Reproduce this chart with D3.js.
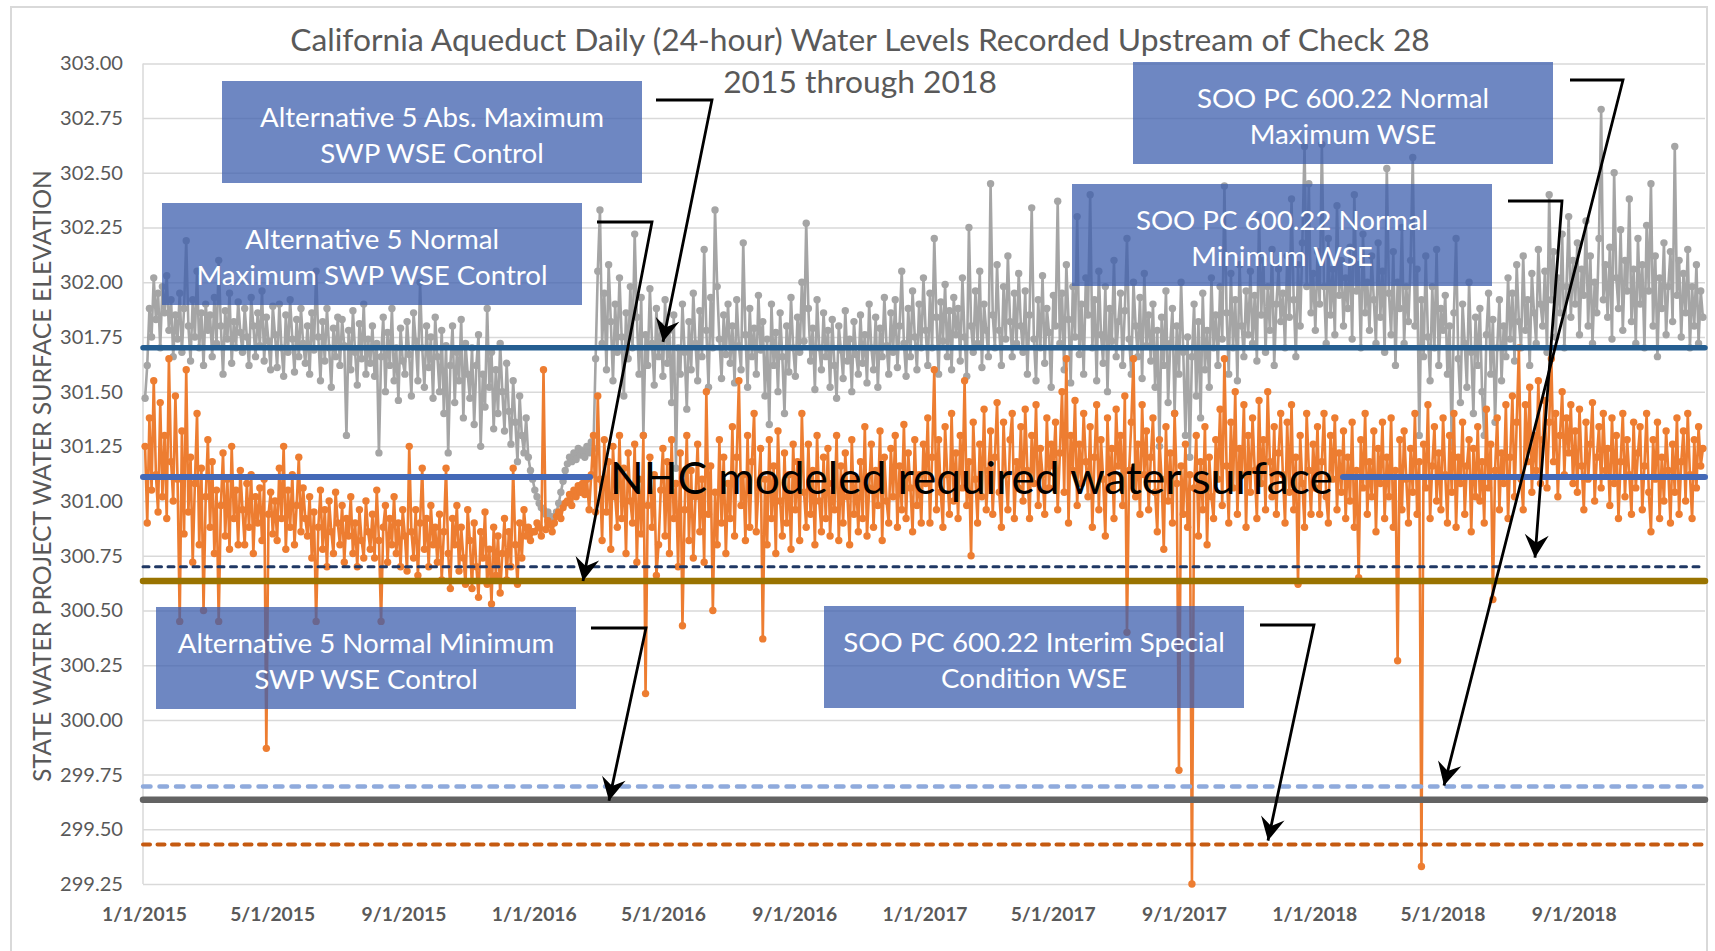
<!DOCTYPE html>
<html>
<head>
<meta charset="utf-8">
<script src="https://cdn.jsdelivr.net/npm/d3@7"></script>
<style>
  body { margin: 0; background: #fff; }
  svg { display: block; font-family: Lato, "Open Sans", sans-serif; }
</style>
</head>
<body>
<script>
// ----- DATA -----
var titleLines = ["California Aqueduct Daily (24-hour) Water Levels Recorded Upstream of Check 28", "2015 through 2018"];
var yAxisTitle = "STATE WATER PROJECT WATER SURFACE ELEVATION";
var yTicks = [299.25, 299.50, 299.75, 300.00, 300.25, 300.50, 300.75, 301.00, 301.25, 301.50, 301.75, 302.00, 302.25, 302.50, 302.75, 303.00];
var xTickLabels = ["1/1/2015", "5/1/2015", "9/1/2015", "1/1/2016", "5/1/2016", "9/1/2016", "1/1/2017", "5/1/2017", "9/1/2017", "1/1/2018", "5/1/2018", "9/1/2018"];
var years = [2015, 2016, 2017, 2018];

// gray series, ~every 2 days (15 readings per month)
var gray2015 = [
  301.47, 301.62, 301.88, 301.75, 302.02, 301.83, 301.95, 301.70, 301.98, 301.86, 302.03, 301.78, 301.92, 301.66, 301.85,
  301.74, 301.95, 301.68, 301.88, 302.19, 301.80, 301.64, 301.92, 301.75, 302.05, 301.70, 301.86, 301.62, 301.90, 301.78,
  301.85, 301.66, 301.93, 301.72, 302.10, 301.80, 301.58, 301.87, 301.74, 301.95, 301.63, 301.82, 301.70, 301.91, 301.77,
  301.68, 301.88, 301.75, 301.62, 301.93, 301.80, 301.66, 301.86, 301.71, 301.96, 301.64, 301.84, 301.73, 301.60, 301.89,
  301.76, 301.61, 301.90, 301.70, 301.57, 301.85, 301.68, 301.92, 301.74, 301.59, 301.83, 301.66, 301.88, 301.72, 301.63,
  301.80, 301.58, 301.86, 301.69, 302.05, 301.75, 301.55, 301.82, 301.64, 301.88, 301.70, 301.52, 301.79, 301.66, 301.84,
  301.62, 301.83, 301.71, 301.30, 301.78, 301.60, 301.87, 301.68, 301.53, 301.81, 301.65, 301.90, 301.58, 301.74, 301.63,
  301.80, 301.57, 301.72, 301.22, 301.66, 301.84, 301.50, 301.77, 301.62, 301.88, 301.55, 301.70, 301.46, 301.79, 301.64,
  301.58, 301.82, 301.67, 301.48, 301.86, 301.73, 301.55, 302.00, 301.70, 301.52, 301.80, 301.61, 301.75, 301.47, 301.84,
  301.66, 301.50, 301.78, 301.40, 301.71, 301.22, 301.62, 301.80, 301.45, 301.68, 301.55, 301.83, 301.38, 301.72, 301.58,
  301.47, 301.70, 301.35, 301.62, 301.76, 301.25, 301.58, 301.43, 301.88, 301.52, 301.68, 301.33, 301.60, 301.40, 301.72,
  301.50, 301.32, 301.63, 301.41, 301.26, 301.55, 301.36, 301.18, 301.48, 301.30, 301.22, 301.38, 301.20, 301.14, 301.10
];
var gray2016 = [
  301.05, 301.02, 300.99, 300.97, 300.96, 300.94, 300.95, 300.93, 300.92, 300.93, 300.95, 300.99, 301.04, 301.09, 301.14,
  301.17, 301.20, 301.18, 301.22, 301.19, 301.24, 301.21, 301.23, 301.20, 301.25, 301.22, 301.27, 301.24, 301.65, 302.05,
  302.33, 301.72, 301.95, 301.60, 302.08, 301.82, 301.55, 301.90, 301.68, 302.02, 301.75, 301.48, 301.86, 301.65, 301.98,
  301.70, 302.22, 301.84, 301.58, 301.93, 301.30, 301.76, 301.62, 301.97, 301.72, 301.53, 301.88, 301.66, 301.80, 301.57,
  301.92, 301.63, 301.78, 301.45, 301.85, 301.15, 301.70, 301.58, 301.90, 301.68, 301.42, 301.82, 301.60, 301.95, 301.72,
  301.55, 301.87, 301.66, 302.15, 301.78, 301.52, 301.93, 301.70, 302.33, 301.98, 301.74, 301.56, 301.85, 301.67, 301.90,
  301.63, 301.80, 301.54, 301.92, 301.71, 301.60, 302.18, 301.76, 301.52, 301.88, 301.66, 301.79, 301.58, 301.94, 301.69,
  301.82, 301.48, 301.74, 301.35, 301.90, 301.62, 301.77, 301.50, 301.86, 301.66, 301.40, 301.80, 301.59, 301.93, 301.70,
  301.57, 301.84, 301.68, 302.00, 301.73, 302.27, 301.88, 301.64, 301.79, 301.51, 301.92, 301.70, 301.60, 301.86, 301.66,
  301.78, 301.52, 301.83, 301.62, 301.47, 301.80, 301.69, 301.56, 301.87, 301.64, 301.74, 301.50, 301.82, 301.67, 301.58,
  301.85, 301.63, 301.76, 301.54, 301.90, 301.70, 301.60, 301.84, 301.52, 301.79, 301.66, 301.93, 301.71, 301.58, 301.86,
  301.68, 301.92, 301.61, 301.80, 302.05, 301.72, 301.57, 301.88, 301.66, 301.96, 301.75, 301.60, 301.90, 301.70, 302.02
];
var gray2017 = [
  301.78, 301.62, 301.95, 301.70, 302.20, 301.84, 301.58, 301.91, 301.73, 301.99, 301.66, 301.87, 301.60, 301.93, 301.76,
  301.88, 301.64, 302.02, 301.75, 301.57, 302.25, 301.80, 301.68, 301.96, 301.72, 302.05, 301.61, 301.90, 301.78, 301.66,
  302.45, 301.85, 301.70, 302.08, 301.78, 301.62, 301.98, 301.74, 302.12, 301.82, 301.66, 301.95, 301.72, 302.04, 301.80,
  301.68, 301.96, 301.58, 301.85, 302.34, 301.74, 301.55, 301.92, 301.70, 302.03, 301.63, 301.88, 301.77, 301.52, 301.94,
  301.80, 302.37, 301.72, 301.95, 301.60, 302.08, 301.83, 301.54, 301.98, 301.75, 302.30, 301.67, 301.90, 301.58, 302.02,
  301.85, 302.40, 301.70, 301.92, 301.55, 302.05, 301.76, 301.63, 301.98, 301.50, 301.88, 301.73, 302.10, 301.66, 301.82,
  301.95, 301.62, 301.87, 302.20, 301.74, 301.58, 302.00, 301.80, 301.66, 301.93, 301.56, 302.04, 301.71, 301.85, 301.64,
  301.90, 301.52, 301.78, 301.25, 301.84, 301.62, 301.96, 301.45, 301.72, 301.88, 301.40, 301.80, 301.58, 302.00, 301.68,
  301.30, 301.75, 301.20, 301.66, 301.90, 301.48, 301.82, 301.38, 301.95, 301.60, 301.78, 301.52, 302.02, 301.70, 301.85,
  301.62, 301.98, 301.74, 302.44, 301.86, 301.58, 302.04, 301.70, 301.92, 301.55, 302.08, 301.80, 301.66, 301.96, 301.76,
  302.05, 301.72, 301.94, 301.64, 302.30, 301.85, 302.10, 301.68, 301.98, 301.78, 302.15, 301.62, 301.90, 302.06, 301.82,
  301.95, 301.70, 302.12, 301.84, 302.38, 301.92, 301.66, 302.08, 301.80, 302.18, 302.62, 301.98, 302.45, 301.86, 302.04
];
var gray2018 = [
  301.78, 302.14, 301.90, 302.63, 301.98, 301.72, 302.20, 301.85, 302.06, 301.76, 302.35, 301.94, 302.10, 301.80, 302.02,
  301.88, 302.16, 301.74, 302.40, 301.96, 302.08, 301.70, 302.22, 301.86, 302.00, 301.78, 302.12, 301.92, 301.72, 302.18,
  301.84, 302.05, 301.68, 302.52, 301.95, 301.76, 302.14, 301.62, 302.00, 301.88, 302.25, 301.72, 301.98, 301.82, 302.10,
  302.57, 301.80, 302.06, 301.30, 301.92, 301.66, 302.12, 301.75, 301.55, 301.98, 301.70, 302.15, 301.62, 301.88, 301.78,
  301.94, 301.58, 301.80, 301.25, 301.86, 302.20, 301.65, 301.45, 301.90, 301.72, 301.52, 302.00, 301.68, 301.40, 301.84,
  301.62, 301.88, 301.50, 301.30, 301.76, 301.95, 301.58, 301.83, 301.36, 301.70, 301.92, 301.55, 301.80, 301.66, 302.02,
  301.74, 301.95, 301.64, 302.08, 301.82, 301.70, 302.12, 301.78, 301.92, 301.62, 302.04, 301.86, 301.72, 302.15, 301.90,
  301.80, 302.05, 301.68, 302.40, 301.92, 302.14, 301.75, 302.02, 301.86, 302.22, 301.70, 301.98, 302.30, 301.84, 302.10,
  301.90, 302.18, 301.76, 302.06, 301.94, 302.28, 301.80, 302.12, 301.72, 302.00, 301.86, 302.20, 302.79, 301.92, 302.08,
  301.84, 302.16, 301.74, 302.50, 302.02, 301.88, 302.24, 301.78, 302.10, 301.96, 302.38, 301.82, 302.06, 301.72, 302.20,
  301.90, 302.08, 301.70, 302.26, 301.96, 302.45, 301.80, 302.12, 301.66, 302.02, 301.88, 302.18, 301.76, 301.98, 302.14,
  301.82, 302.62, 301.94, 302.10, 301.75, 302.04, 301.86, 302.15, 301.70, 301.98, 301.80, 302.08, 301.72, 301.96, 301.84
];

// orange series, same sampling
var orange2015 = [
  301.25, 300.90, 301.38, 301.05, 301.55, 301.12, 300.95, 301.45, 301.02, 301.30, 300.92, 301.65, 301.18, 301.00, 301.48,
  301.10, 300.45, 301.32, 300.85, 301.60, 300.95, 301.20, 300.72, 301.08, 301.40, 300.80, 301.15, 300.50, 301.02, 301.28,
  300.88, 301.18, 300.76, 301.05, 300.45, 300.98, 301.22, 300.84, 301.10, 300.78, 301.25, 300.92, 301.05, 300.80, 301.14,
  300.96, 300.80, 301.08, 300.88, 301.12, 300.76, 301.02, 300.90, 301.06, 300.82, 301.10, 299.87, 300.94, 301.04, 300.85,
  301.00, 300.82, 301.15, 300.92, 301.25, 300.78, 301.05, 300.88, 301.12, 300.80, 300.98, 301.20, 300.86, 301.06, 300.92,
  300.84, 301.02, 300.74, 300.95, 300.45, 300.88, 301.05, 300.78, 300.96, 300.70, 301.00, 300.86, 300.76, 301.04, 300.90,
  300.80, 300.98, 300.72, 300.92, 300.84, 301.02, 300.76, 300.90, 300.70, 300.96, 300.82, 300.74, 301.00, 300.86, 300.78,
  300.94, 300.74, 301.05, 300.82, 300.45, 300.88, 300.98, 300.72, 300.92, 300.80, 301.02, 300.76, 300.90, 300.70, 300.96,
  300.84, 300.68, 301.25, 300.86, 300.74, 300.96, 300.66, 300.90, 301.15, 300.78, 300.92, 300.70, 300.98, 300.80, 300.88,
  300.72, 300.94, 300.64, 300.86, 301.15, 300.76, 300.60, 300.92, 300.80, 300.98, 300.68, 300.88, 300.74, 300.62, 300.96,
  300.82, 300.60, 300.90, 300.70, 300.56, 300.86, 300.74, 300.95, 300.62, 300.78, 300.53, 300.88, 300.66, 300.84, 300.58,
  300.76, 300.92, 300.64, 300.86, 300.70, 301.15, 300.80, 300.62, 300.90, 300.74, 300.96, 300.84, 300.88, 300.82, 300.86
];
var orange2016 = [
  300.86, 300.90, 300.88, 300.84, 301.60, 300.87, 300.91, 300.89, 300.86, 300.90, 300.93, 300.95, 300.92, 300.97, 300.99,
  301.00, 301.03, 300.98, 301.05, 301.02, 301.07, 301.04, 301.08, 301.03, 301.10, 300.96, 301.12, 301.30, 300.95, 301.48,
  301.10, 300.82, 301.28, 300.95, 301.18, 300.78, 301.25, 301.02, 300.88, 301.30, 300.92, 301.15, 300.76, 301.22, 301.00,
  300.90, 301.26, 300.72, 301.10, 300.85, 301.30, 300.12, 300.98, 301.20, 300.88, 301.12, 300.66, 300.80, 301.05, 301.24,
  300.84, 301.18, 300.76, 301.28, 300.92, 301.08, 300.70, 301.22, 300.43, 300.96, 301.30, 300.82, 301.14, 300.74, 301.02,
  301.26, 300.86, 301.10, 300.72, 301.50, 300.94, 301.16, 300.50, 301.04, 300.80, 301.28, 300.90, 301.20, 300.76, 301.08,
  300.92, 301.34, 300.84, 301.20, 301.55, 300.98, 301.12, 300.82, 301.30, 300.88, 301.18, 301.40, 300.86, 301.06, 301.24,
  300.37, 301.10, 300.80, 301.28, 300.92, 301.16, 300.76, 301.32, 301.00, 300.84, 301.22, 300.90, 301.12, 300.78, 301.26,
  300.96, 301.18, 300.82, 301.40, 301.04, 300.88, 301.26, 300.94, 301.14, 300.80, 301.30, 301.00, 300.86, 301.20, 300.92,
  301.24, 300.84, 301.08, 300.96, 301.30, 300.82, 301.16, 300.90, 301.22, 301.02, 300.80, 301.28, 300.94, 301.10, 300.86,
  301.18, 300.92, 301.34, 300.84, 301.06, 301.26, 300.88, 301.14, 300.98, 301.32, 300.82, 301.20, 301.00, 300.90, 301.24,
  301.02, 301.30, 300.88, 301.16, 300.96, 301.35, 300.92, 301.22, 301.06, 300.86, 301.28, 300.98, 301.12, 300.90, 301.26
];
var orange2017 = [
  301.08, 301.38, 300.90, 301.20, 301.60, 300.96, 301.28, 301.04, 300.88, 301.34, 301.12, 300.94, 301.40, 301.00, 301.22,
  300.92, 301.30, 301.06, 301.55, 300.98, 301.18, 300.75, 301.36, 301.10, 300.90, 301.26, 301.02, 301.42, 300.96, 301.14,
  301.32, 300.94, 301.20, 301.45, 301.04, 300.88, 301.36, 301.12, 300.96, 301.28, 301.40, 300.92, 301.18, 301.06, 301.34,
  301.00, 301.42, 301.14, 300.92, 301.30, 301.08, 301.44, 300.98, 301.24, 301.12, 300.94, 301.38, 301.06, 301.26, 301.16,
  301.36, 300.96, 301.22, 301.50, 301.04, 301.65, 300.90, 301.30, 301.14, 301.46, 300.98, 301.26, 301.08, 301.40, 301.18,
  301.02, 301.34, 300.88, 301.20, 301.44, 300.96, 301.28, 301.10, 300.84, 301.38, 301.06, 301.24, 300.92, 301.42, 301.16,
  301.30, 300.98, 301.48, 300.40, 301.14, 301.36, 301.65, 301.02, 301.26, 300.94, 301.44, 301.12, 301.32, 300.96, 301.20,
  301.38, 301.04, 300.86, 301.28, 301.10, 300.78, 301.34, 301.00, 301.22, 300.90, 301.40, 301.08, 299.77, 301.16, 300.94,
  301.26, 300.88, 301.12, 299.25, 301.06, 301.30, 300.84, 301.18, 300.96, 301.34, 300.80, 301.20, 301.02, 300.92, 301.28,
  301.10, 301.42, 300.98, 301.65, 301.16, 300.90, 301.36, 301.06, 301.50, 300.94, 301.24, 301.12, 301.44, 300.88, 301.30,
  301.04, 301.38, 301.14, 300.92, 301.46, 301.08, 301.28, 300.96, 301.50, 301.18, 301.02, 301.34, 300.94, 301.22, 301.40,
  301.12, 300.90, 301.36, 301.04, 301.44, 300.96, 301.20, 300.62, 301.30, 301.08, 300.88, 301.40, 301.14, 300.94, 301.26
];
var orange2018 = [
  301.06, 301.34, 300.94, 301.18, 301.40, 301.02, 300.90, 301.30, 301.10, 301.38, 300.96, 301.22, 301.04, 301.32, 300.92,
  301.20, 301.00, 301.36, 300.88, 301.14, 300.65, 301.28, 301.06, 301.40, 300.94, 301.18, 301.02, 301.32, 300.86, 301.24,
  301.08, 301.36, 300.92, 301.20, 301.02, 301.38, 300.88, 301.14, 300.27, 301.28, 300.96, 301.32, 301.10, 300.90, 301.24,
  301.04, 301.40, 300.94, 301.18, 299.33, 301.26, 301.06, 301.44, 300.92, 301.16, 301.34, 301.00, 301.22, 300.96, 301.38,
  301.12, 300.90, 301.30, 301.04, 301.40, 300.88, 301.20, 301.08, 301.36, 300.94, 301.16, 301.28, 300.86, 301.24, 301.02,
  301.34, 301.00, 301.18, 300.90, 301.42, 301.06, 301.26, 300.55, 301.14, 301.38, 300.96, 301.22, 301.08, 301.44, 300.92,
  301.20, 301.48, 301.02, 301.36, 301.70, 301.10, 300.96, 301.44, 301.18, 301.52, 301.04, 301.30, 301.14, 301.55, 301.08,
  301.28, 301.46, 301.06, 301.36, 301.65, 301.18, 301.40, 301.02, 301.30, 301.50, 301.12, 301.38, 301.22, 301.44, 301.08,
  301.32, 301.04, 301.42, 301.16, 300.96, 301.36, 301.10, 301.26, 301.45, 301.00, 301.20, 301.34, 301.06, 301.40, 301.14,
  301.24, 300.98, 301.38, 301.08, 301.30, 300.92, 301.18, 301.40, 301.02, 301.28, 301.12, 300.94, 301.36, 301.06, 301.22,
  301.34, 300.96, 301.16, 301.40, 301.04, 300.86, 301.28, 301.10, 301.36, 300.92, 301.20, 301.00, 301.32, 301.14, 300.90,
  301.26, 301.04, 301.38, 300.94, 301.18, 301.32, 301.00, 301.40, 301.12, 300.92, 301.28, 301.06, 301.34, 301.16, 301.24
];

// control / reference elevations
var refNames = ["absMax", "nhc", "sooMin", "alt5Max", "sooMax", "alt5Min", "sooInterim"];
var refValues = [301.70, 301.11, 300.70, 300.635, 299.695, 299.635, 299.43];
var nhcLabel = "NHC modeled required water surface";

var boxLabels = [
  ["Alternative 5 Abs. Maximum", "SWP WSE Control"],
  ["Alternative 5 Normal", "Maximum SWP WSE Control"],
  ["Alternative 5 Normal Minimum", "SWP WSE Control"],
  ["SOO PC 600.22 Interim Special", "Condition WSE"],
  ["SOO PC 600.22 Normal", "Maximum WSE"],
  ["SOO PC 600.22 Normal", "Minimum WSE"]
];
var boxTargets = ["absMax", "alt5Max", "alt5Min", "sooInterim", "sooMax", "sooMin"];

// ----- LAYOUT -----
var W = 1715, H = 951;
var plotL = 143, plotR = 1705, plotT = 63.4, plotB = 884;
var textGray = "#595959";

var refStyle = {
  absMax:     {color: "#255E91", width: 5.5, dash: null},
  nhc:        {color: "#4469B7", width: 6,   dash: null},
  sooMin:     {color: "#203864", width: 3,   dash: "6,6.5"},
  alt5Max:    {color: "#997300", width: 6.5, dash: null},
  sooMax:     {color: "#8FAADC", width: 4.5, dash: "7.5,9"},
  alt5Min:    {color: "#636363", width: 6.5, dash: null},
  sooInterim: {color: "#C55A11", width: 4,   dash: "7,7.5"}
};

var boxW = 420, boxH = 102;
var boxPos = [[222, 81], [162, 203], [156, 607], [824, 606], [1133, 62], [1072, 184]];
// arrow: start x, start y, corner x, tip x, gap above target line
var arrowPos = [
  [656, 100, 712, 663, 6],
  [597, 222, 652, 583, 0],
  [591, 628, 646, 609, -1],
  [1260, 625, 1314, 1268, 4],
  [1570, 80, 1623, 1444, 1],
  [1508, 201, 1562, 1535, 9]
];

var svg = d3.select("body").append("svg")
  .attr("width", W)
  .attr("height", H);

svg.append("rect").attr("width", W).attr("height", H).attr("fill", "#fff");

// font size that gives a wanted text width
function fitSize(str, weight, target) {
  var t = svg.append("text").attr("font-size", 100).attr("font-weight", weight).text(str);
  var w = t.node().getComputedTextLength();
  t.remove();
  return 100 * target / w;
}

var x = d3.scaleTime()
  .domain([new Date(2015, 0, 1), new Date(2019, 0, 1)])
  .range([144, 1704]);
var y = d3.scaleLinear()
  .domain([299.25, 303])
  .range([plotB, plotT]);

function buildSeries(arrays) {
  var pts = [];
  arrays.forEach(function(vals, k) {
    var t0 = new Date(years[k], 0, 1).getTime();
    var t1 = new Date(years[k] + 1, 0, 1).getTime();
    vals.forEach(function(v, i) {
      pts.push({date: new Date(t0 + (t1 - t0) * (i + 0.5) / vals.length), value: v});
    });
  });
  return pts;
}
var graySeries = buildSeries([gray2015, gray2016, gray2017, gray2018]);
var orangeSeries = buildSeries([orange2015, orange2016, orange2017, orange2018]);

// outer chart border
svg.append("rect")
  .attr("x", 11).attr("y", 7)
  .attr("width", 1696).attr("height", 960)
  .attr("fill", "none")
  .attr("stroke", "#d9d9d9")
  .attr("stroke-width", 2);

// Y AXIS + GRID
var yLabelSize = fitSize("303.00", "normal", 63);
var yAxis = svg.append("g")
  .attr("transform", "translate(" + plotL + ",0)")
  .call(d3.axisLeft(y).tickValues(yTicks).tickFormat(d3.format(".2f"))
    .tickSize(-(plotR - plotL)).tickPadding(20));
yAxis.select(".domain").remove();
yAxis.selectAll(".tick line").attr("stroke", "#d9d9d9").attr("stroke-width", 1.5);
yAxis.selectAll(".tick text")
  .attr("fill", textGray)
  .attr("font-size", yLabelSize)
  .attr("font-family", "Lato, sans-serif");

svg.append("line")
  .attr("x1", plotL).attr("x2", plotL)
  .attr("y1", plotT).attr("y2", plotB)
  .attr("stroke", "#d9d9d9").attr("stroke-width", 1.5);

// X AXIS
var parseTick = d3.timeParse("%m/%d/%Y");
var xLabelSize = fitSize("1/1/2015", "bold", 85);
var xAxis = svg.append("g")
  .attr("transform", "translate(0," + plotB + ")")
  .call(d3.axisBottom(x)
    .tickValues(xTickLabels.map(parseTick))
    .tickFormat(function(d, i) { return xTickLabels[i]; })
    .tickSize(0));
xAxis.select(".domain").remove();
xAxis.selectAll(".tick text")
  .attr("y", 30).attr("dy", "0.35em")
  .attr("fill", textGray)
  .attr("font-weight", "bold")
  .attr("font-size", xLabelSize)
  .attr("font-family", "Lato, sans-serif");

// AXIS TITLE
svg.append("text")
  .attr("transform", "translate(41,476) rotate(-90)")
  .attr("text-anchor", "middle")
  .attr("dominant-baseline", "central")
  .attr("fill", textGray)
  .attr("font-size", fitSize(yAxisTitle, "normal", 612))
  .text(yAxisTitle);

// SERIES
var line = d3.line()
  .x(function(d) { return x(d.date); })
  .y(function(d) { return y(d.value); });

function drawSeries(data, color) {
  var g = svg.append("g");
  g.append("path")
    .datum(data)
    .attr("fill", "none")
    .attr("stroke", color)
    .attr("stroke-width", 2.6)
    .attr("stroke-linejoin", "round")
    .attr("d", line);
  g.selectAll("circle")
    .data(data)
    .enter()
    .append("circle")
    .attr("cx", function(d) { return x(d.date); })
    .attr("cy", function(d) { return y(d.value); })
    .attr("r", 3.7)
    .attr("fill", color);
}
drawSeries(graySeries, "#A5A5A5");
drawSeries(orangeSeries, "#ED7D31");

// REFERENCE LINES
var refY = {};
refNames.forEach(function(n, i) { refY[n] = y(refValues[i]); });

var nhcSize = fitSize(nhcLabel, "normal", 723);
var nhcLeft = 610, nhcRight = 610 + 723;

refNames.forEach(function(n, i) {
  var st = refStyle[n];
  var segs = n === "nhc" ? [[plotL, nhcLeft - 20], [nhcRight + 10, plotR]] : [[plotL, plotR]];
  segs.forEach(function(s) {
    svg.append("line")
      .attr("x1", s[0]).attr("x2", s[1])
      .attr("y1", refY[n]).attr("y2", refY[n])
      .attr("stroke", st.color)
      .attr("stroke-width", st.width)
      .attr("stroke-linecap", "round")
      .attr("stroke-dasharray", st.dash);
  });
});

svg.append("text")
  .attr("x", nhcLeft)
  .attr("y", refY.nhc)
  .attr("dominant-baseline", "central")
  .attr("font-size", nhcSize)
  .attr("fill", "#000")
  .text(nhcLabel);

// ANNOTATION BOXES
var boxSize = fitSize(boxLabels[0][0], "normal", 344);
boxLabels.forEach(function(lines, i) {
  var bx = boxPos[i][0], by = boxPos[i][1];
  svg.append("rect")
    .attr("x", bx).attr("y", by)
    .attr("width", boxW).attr("height", boxH)
    .attr("fill", "#3e5fae")
    .attr("fill-opacity", 0.75);
  lines.forEach(function(t, j) {
    svg.append("text")
      .attr("x", bx + boxW / 2)
      .attr("y", by + 35 + j * 36)
      .attr("text-anchor", "middle")
      .attr("dominant-baseline", "central")
      .attr("font-size", boxSize)
      .attr("fill", "#fff")
      .text(t);
  });
});

// ARROWS
svg.append("defs").append("marker")
  .attr("id", "arrowHead")
  .attr("viewBox", "-24 -13 26 26")
  .attr("refX", 0).attr("refY", 0)
  .attr("markerWidth", 26).attr("markerHeight", 26)
  .attr("markerUnits", "userSpaceOnUse")
  .attr("orient", "auto")
  .append("path")
  .attr("d", "M0,0 L-23,-12 L-15,0 L-23,12 Z")
  .attr("fill", "#000");

arrowPos.forEach(function(a, i) {
  var tipY = refY[boxTargets[i]] - a[4];
  svg.append("path")
    .attr("d", "M" + a[0] + "," + a[1] + " H" + a[2] + " L" + a[3] + "," + tipY)
    .attr("fill", "none")
    .attr("stroke", "#000")
    .attr("stroke-width", 2.8)
    .attr("marker-end", "url(#arrowHead)");
});

// TITLE
var titleSize = fitSize(titleLines[0], "normal", 1140);
svg.append("text")
  .attr("x", 860).attr("y", 39)
  .attr("text-anchor", "middle")
  .attr("dominant-baseline", "central")
  .attr("font-size", titleSize)
  .attr("fill", textGray)
  .text(titleLines[0]);
svg.append("text")
  .attr("x", 860).attr("y", 81)
  .attr("text-anchor", "middle")
  .attr("dominant-baseline", "central")
  .attr("font-size", titleSize)
  .attr("fill", textGray)
  .text(titleLines[1]);
</script>
</body>
</html>
